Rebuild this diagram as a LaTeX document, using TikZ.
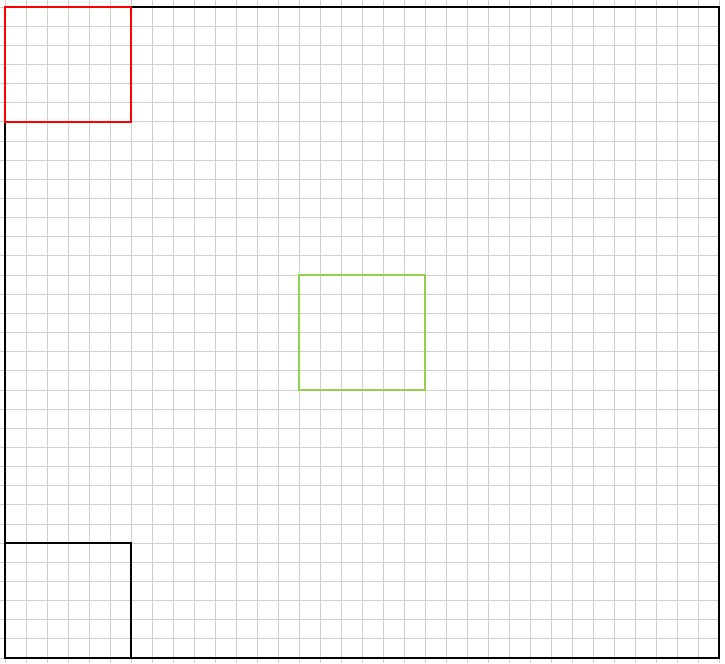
\documentclass[tikz,border=0pt]{standalone}
\usepackage{tikz}
\usetikzlibrary{positioning}

\definecolor{gridgray}{RGB}{208,208,208}
\definecolor{boxgreen}{RGB}{146,208,80}

\begin{document}
\begin{tikzpicture}
		[x = 0.5cm, y = 0.4559cm,
		 gridline/.style = {gridgray, line width=0.6pt},
		 region/.style = {line width=1.3pt}]
		\useasboundingbox (-0.238,-0.261) rectangle (34.286,34.366);
		\coordinate (a) at (0,0);
		\coordinate (b) at (34,34);
		\coordinate (c) at (0,28);
		\coordinate (d) at (6,34);
		\coordinate (e) at (14,14);
		\coordinate (f) at (20,20);
		\coordinate (g) at (6,6);

		\draw[gridline, step=1] (-0.238,-0.261) grid (34,34.366);

		\draw[region] (a) rectangle (b);
		\draw[region] (a) rectangle (g);
		\draw[region, red] (c) rectangle (d);
		\draw[region, boxgreen] (e) rectangle (f);
	\end{tikzpicture}
\end{document}
